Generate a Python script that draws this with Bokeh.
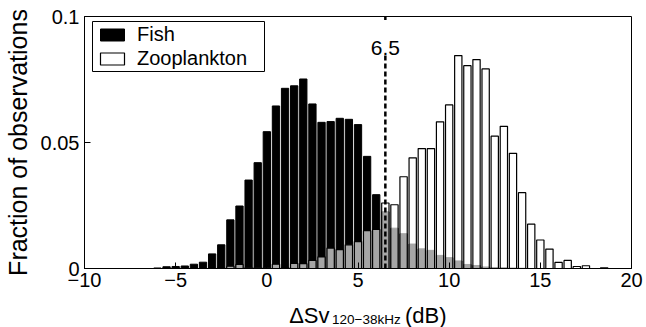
from bokeh.plotting import figure
from bokeh.layouts import column
from bokeh.models import (ColumnDataSource, Label, FixedTicker, Legend, LegendItem,
                          BoxAnnotation)
from bokeh.embed import file_html
from bokeh.resources import INLINE

# ---- data ----
bin_centers = [-6.0, -5.5, -5.0, -4.5, -4.0, -3.5, -3.0, -2.5, -2.0, -1.5,
               -1.0, -0.5, 0.0, 0.5, 1.0, 1.5, 2.0, 2.5, 3.0, 3.5,
               4.0, 4.5, 5.0, 5.5, 6.0, 6.5, 7.0, 7.5, 8.0, 8.5,
               9.0, 9.5, 10.0, 10.5, 11.0, 11.5, 12.0, 12.5, 13.0, 13.5,
               14.0, 14.5, 15.0, 15.5, 16.0, 16.5, 17.0, 17.5, 18.0, 18.5]
fish = [0.0002, 0.0007, 0.0008, 0.0010, 0.0017, 0.0025, 0.0058, 0.0094, 0.0193, 0.0248,
        0.0351, 0.0420, 0.0543, 0.0645, 0.0715, 0.0725, 0.0752, 0.0653, 0.0580, 0.0583,
        0.0596, 0.0592, 0.0571, 0.0445, 0.0293, 0.0225, 0.0160, 0.0138, 0.0097, 0.0078,
        0.0072, 0.0052, 0.0043, 0.0030, 0.0016, 0.0012, 0.0006, 0.0004, 0.0003, 0.0002,
        0.0001, 0.0, 0.0, 0.0, 0.0, 0.0, 0.0, 0.0, 0.0, 0.0]
zooplankton = [0.0, 0.0, 0.0, 0.0, 0.0, 0.0, 0.0, 0.0002, 0.0009, 0.0016,
               0.0003, 0.0003, 0.0003, 0.0017, 0.0004, 0.0020, 0.0019, 0.0032, 0.0046, 0.0081,
               0.0075, 0.0094, 0.0107, 0.0150, 0.0155, 0.0260, 0.0253, 0.0364, 0.0439, 0.0476,
               0.0476, 0.0582, 0.0649, 0.0845, 0.0805, 0.0829, 0.0792, 0.0525, 0.0564, 0.0457,
               0.0301, 0.0176, 0.0113, 0.0077, 0.0024, 0.0032, 0.0008, 0.0011, 0.0, 0.0003]
threshold = 6.5
x_ticks = [-10, -5, 0, 5, 10, 15, 20]
x_tick_labels = ["\u221210", "\u22125", "0", "5", "10", "15", "20"]
y_ticks = [0, 0.05, 0.1]
y_tick_labels = ["0", "0.05", "0.1"]
series_names = ["Fish", "Zooplankton"]
y_title = "Fraction of observations"
x_title_parts = ["\u0394Sv", "120\u221238kHz", "(dB)"]

FONT = "Liberation Sans"
W = 646
MAIN_H = 295
XLAB_H = 32
FRAME_L, FRAME_R = 83, 631          # frame edges in page pixels
Y_MAX = 0.1
LINE_GAP = (0.0853, 0.0986)         # part of the dashed line left open for its label

fish_src = ColumnDataSource(dict(
    x=[c for c, v in zip(bin_centers, fish) if v > 0],
    top=[v for v in fish if v > 0]))
zoo_src = ColumnDataSource(dict(
    x=[c for c, v in zip(bin_centers, zooplankton) if v > 0],
    top=[v for v in zooplankton if v > 0]))

p = figure(width=W, height=MAIN_H, x_range=(-10, 20), y_range=(0, Y_MAX),
           output_backend="svg", toolbar_location=None,
           min_border_left=FRAME_L, min_border_right=W - FRAME_R,
           min_border_top=16, min_border_bottom=27)
p.background_fill_color = "white"
p.border_fill_color = "white"
p.xgrid.visible = False
p.ygrid.visible = False
p.outline_line_color = "black"
p.outline_line_width = 1
p.outline_line_alpha = 1

for ax in (p.xaxis, p.yaxis):
    ax.axis_line_color = "black"
    ax.axis_line_width = 1
    ax.major_tick_line_color = "black"
    ax.major_tick_in = 6
    ax.major_tick_out = 0
    ax.minor_tick_line_color = None
    ax.major_label_text_font = FONT
    ax.major_label_text_font_size = "20px"
    ax.major_label_text_color = "black"
p.xaxis.major_label_standoff = 4
p.yaxis.major_label_standoff = 5

p.xaxis.ticker = FixedTicker(ticks=x_ticks)
p.xaxis.major_label_overrides = {t: l for t, l in zip(x_ticks, x_tick_labels)}
p.yaxis.ticker = FixedTicker(ticks=y_ticks)
p.yaxis.major_label_overrides = {t: l for t, l in zip(y_ticks, y_tick_labels)}

p.yaxis.axis_label = y_title
p.yaxis.axis_label_text_font = FONT
p.yaxis.axis_label_text_font_size = "25px"
p.yaxis.axis_label_text_font_style = "normal"
p.yaxis.axis_label_text_color = "black"
p.yaxis.axis_label_standoff = 6

r_fish = p.vbar(x="x", top="top", bottom=0, width=0.4, source=fish_src,
                fill_color="black", line_color="black", line_width=1)
r_zoo = p.vbar(x="x", top="top", bottom=0, width=0.4, source=zoo_src,
               fill_color="white", fill_alpha=0.65, line_color="black", line_width=1.2)

# dashed threshold line, open where its label sits
p.segment(x0=[threshold, threshold], y0=[0, LINE_GAP[1]],
          x1=[threshold, threshold], y1=[LINE_GAP[0], Y_MAX],
          line_color="black", line_width=2.5, line_dash="5 3")

p.add_layout(Label(x=threshold, y=221, x_units="data", y_units="screen",
                   text=str(threshold), text_align="center", text_baseline="alphabetic",
                   text_font=FONT, text_font_size="21px", text_color="black"))

# legend: one framed box holding two single-row legends
p.add_layout(BoxAnnotation(left=8, right=180, top=247, bottom=197,
                           left_units="screen", right_units="screen",
                           top_units="screen", bottom_units="screen",
                           fill_color="white", fill_alpha=1,
                           line_color="black", line_width=1, line_alpha=1))


def one_row_legend(name, renderer, y):
    lg = Legend(items=[LegendItem(label=name, renderers=[renderer])], location=(13, y))
    lg.border_line_color = None
    lg.background_fill_alpha = 0
    lg.margin = 0
    lg.padding = 0
    lg.spacing = 0
    lg.glyph_width = 30
    lg.glyph_height = 15
    lg.label_standoff = 10
    lg.label_height = 20
    lg.label_text_font = FONT
    lg.label_text_font_size = "20px"
    lg.label_text_color = "black"
    return lg


p.add_layout(one_row_legend(series_names[0], r_fish, 222))
p.add_layout(one_row_legend(series_names[1], r_zoo, 198))

# x title strip (bottom), with subscript; its x range is in page pixels
xlab = figure(width=W, height=XLAB_H, x_range=(FRAME_L, FRAME_R), y_range=(0, XLAB_H),
              output_backend="svg", toolbar_location=None,
              x_axis_location=None, y_axis_location=None,
              min_border_left=FRAME_L, min_border_right=W - FRAME_R,
              min_border_top=0, min_border_bottom=0)
xlab.xgrid.visible = False
xlab.ygrid.visible = False
xlab.outline_line_color = None
xlab.background_fill_color = "white"
xlab.border_fill_color = "white"
xlab.add_layout(Label(x=288, y=12, text=x_title_parts[0], text_align="left",
                      text_baseline="alphabetic", text_font=FONT,
                      text_font_size="22px", text_color="black"))
xlab.add_layout(Label(x=331, y=8, text=x_title_parts[1], text_align="left",
                      text_baseline="alphabetic", text_font=FONT,
                      text_font_size="13.5px", text_color="black"))
xlab.add_layout(Label(x=404, y=12, text=x_title_parts[2], text_align="left",
                      text_baseline="alphabetic", text_font=FONT,
                      text_font_size="22px", text_color="black"))

layout = column(p, xlab, spacing=0)

open("out.html", "w").write(file_html(layout, INLINE))
